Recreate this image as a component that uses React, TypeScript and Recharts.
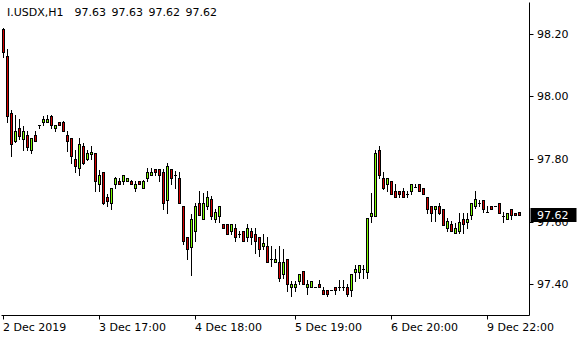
import { Bar, ComposedChart, XAxis, YAxis } from "recharts";

const symbol = "I.USDX,H1";

// hourly bars left to right
const opens = [
  98.214, 98.128, 97.948, 97.857, 97.9, 97.865, 97.878, 97.83, 97.878, 97.909,
  97.918, 97.918, 97.937, 97.898, 97.918, 97.918, 97.878, 97.868, 97.8, 97.772,
  97.841, 97.801, 97.817, 97.82, 97.719, 97.759, 97.679, 97.66, 97.721, 97.731,
  97.729, 97.729, 97.729, 97.708, 97.731, 97.708, 97.74, 97.748, 97.769, 97.769,
  97.759, 97.668, 97.769, 97.75, 97.74, 97.649, 97.551, 97.519, 97.569, 97.66,
  97.609, 97.649, 97.671, 97.609, 97.617, 97.591, 97.591, 97.569, 97.58, 97.561,
  97.569, 97.55, 97.571, 97.561, 97.551, 97.521, 97.521, 97.481, 97.472, 97.472,
  97.431, 97.481, 97.392, 97.392, 97.41, 97.442, 97.392, 97.392, 97.392, 97.401,
  97.38, 97.38, 97.38, 97.392, 97.392, 97.392, 97.392, 97.38, 97.44, 97.44,
  97.45, 97.44, 97.617, 97.617, 97.83, 97.74, 97.721, 97.731, 97.699, 97.699,
  97.699, 97.689, 97.699, 97.71, 97.721, 97.708, 97.679, 97.651, 97.641, 97.651,
  97.641, 97.58, 97.591, 97.562, 97.569, 97.609, 97.599, 97.62, 97.651, 97.66,
  97.668, 97.63, 97.651, 97.651, 97.66, 97.618, 97.609, 97.641, 97.628, 97.63,
];
const highs = [
  98.22, 98.15, 97.958, 97.939, 97.929, 97.907, 97.891, 97.868, 97.891, 97.909,
  97.937, 97.939, 97.939, 97.909, 97.918, 97.921, 97.889, 97.868, 97.83, 97.868,
  97.852, 97.83, 97.843, 97.82, 97.766, 97.759, 97.687, 97.708, 97.743, 97.74,
  97.75, 97.74, 97.732, 97.729, 97.731, 97.734, 97.772, 97.772, 97.769, 97.769,
  97.769, 97.788, 97.769, 97.761, 97.759, 97.649, 97.551, 97.623, 97.66, 97.699,
  97.69, 97.699, 97.681, 97.639, 97.649, 97.591, 97.591, 97.591, 97.591, 97.569,
  97.569, 97.591, 97.58, 97.58, 97.551, 97.561, 97.55, 97.521, 97.511, 97.521,
  97.511, 97.481, 97.41, 97.41, 97.431, 97.442, 97.415, 97.41, 97.392, 97.412,
  97.39, 97.38, 97.38, 97.392, 97.412, 97.412, 97.401, 97.431, 97.46, 97.46,
  97.46, 97.61, 97.69, 97.83, 97.841, 97.759, 97.74, 97.731, 97.721, 97.699,
  97.708, 97.699, 97.721, 97.721, 97.721, 97.708, 97.679, 97.651, 97.651, 97.66,
  97.641, 97.612, 97.601, 97.594, 97.628, 97.628, 97.628, 97.66, 97.697, 97.668,
  97.668, 97.649, 97.651, 97.651, 97.66, 97.63, 97.628, 97.641, 97.628, 97.63,
];
const lows = [
  98.127, 97.918, 97.809, 97.853, 97.865, 97.828, 97.83, 97.82, 97.857, 97.898,
  97.909, 97.918, 97.898, 97.888, 97.909, 97.889, 97.827, 97.788, 97.759, 97.75,
  97.783, 97.798, 97.801, 97.697, 97.697, 97.657, 97.649, 97.639, 97.708, 97.721,
  97.721, 97.729, 97.721, 97.697, 97.721, 97.708, 97.731, 97.748, 97.748, 97.729,
  97.639, 97.628, 97.719, 97.708, 97.66, 97.527, 97.479, 97.428, 97.537, 97.62,
  97.609, 97.639, 97.607, 97.598, 97.598, 97.58, 97.561, 97.561, 97.537, 97.55,
  97.537, 97.537, 97.529, 97.5, 97.489, 97.511, 97.472, 97.458, 97.472, 97.41,
  97.42, 97.378, 97.362, 97.378, 97.401, 97.401, 97.37, 97.392, 97.392, 97.392,
  97.37, 97.362, 97.38, 97.37, 97.38, 97.38, 97.362, 97.362, 97.41, 97.42,
  97.42, 97.42, 97.598, 97.617, 97.74, 97.703, 97.697, 97.689, 97.679, 97.679,
  97.679, 97.679, 97.689, 97.71, 97.699, 97.689, 97.628, 97.601, 97.601, 97.623,
  97.588, 97.569, 97.569, 97.562, 97.562, 97.562, 97.58, 97.607, 97.644, 97.649,
  97.63, 97.63, 97.641, 97.651, 97.628, 97.598, 97.609, 97.609, 97.62, 97.62,
];
const closes = [
  98.143, 97.937, 97.849, 97.891, 97.875, 97.889, 97.838, 97.868, 97.857, 97.909,
  97.928, 97.928, 97.909, 97.909, 97.909, 97.889, 97.857, 97.809, 97.777, 97.849,
  97.788, 97.82, 97.822, 97.729, 97.75, 97.66, 97.667, 97.708, 97.74, 97.721,
  97.75, 97.74, 97.721, 97.721, 97.721, 97.731, 97.759, 97.759, 97.759, 97.748,
  97.66, 97.779, 97.74, 97.75, 97.66, 97.537, 97.511, 97.609, 97.649, 97.62,
  97.66, 97.679, 97.618, 97.63, 97.649, 97.58, 97.561, 97.591, 97.55, 97.561,
  97.537, 97.58, 97.55, 97.537, 97.511, 97.531, 97.472, 97.481, 97.481, 97.42,
  97.472, 97.401, 97.401, 97.401, 97.431, 97.401, 97.401, 97.41, 97.392, 97.392,
  97.37, 97.37, 97.38, 97.38, 97.392, 97.392, 97.37, 97.431, 97.45, 97.46,
  97.45, 97.61, 97.628, 97.82, 97.75, 97.708, 97.74, 97.689, 97.679, 97.689,
  97.679, 97.689, 97.721, 97.71, 97.699, 97.689, 97.641, 97.628, 97.651, 97.628,
  97.588, 97.601, 97.569, 97.58, 97.599, 97.591, 97.609, 97.66, 97.671, 97.66,
  97.641, 97.63, 97.641, 97.651, 97.628, 97.618, 97.628, 97.62, 97.62, 97.62,
];

const timeTicks = [0, 24, 48, 73, 97, 121];
const timeLabels = ["2 Dec 2019", "3 Dec 17:00", "4 Dec 18:00", "5 Dec 19:00", "6 Dec 20:00", "9 Dec 22:00"];
const priceTicks = [97.4, 97.6, 97.8, 98.0, 98.2];
const priceDomain = [97.3, 98.3];

const bullColor = "#7cfc00";
const bearColor = "#d40000";
const font = "'DejaVu Sans', Verdana, sans-serif";

const data = opens.map((open, i) => ({ i, open, high: highs[i], low: lows[i], close: closes[i] }));
const last = data[data.length - 1];

function Candle(props: any) {
  const { x, y, width, height, payload } = props;
  if (x == null || y == null) return null;
  const { open, high, low, close } = payload;
  const cx = Math.floor(x + width / 2);
  const top = Math.min(y, y + height);
  const span = Math.abs(height);
  const toY = (p: number) => (high === low ? top : top + ((high - p) / (high - low)) * span);
  const yHigh = Math.round(toY(high));
  const yLow = Math.round(toY(low));
  const yBodyTop = Math.round(toY(Math.max(open, close)));
  const yBodyBot = Math.round(toY(Math.min(open, close)));
  return (
    <g>
      <line x1={cx + 0.5} x2={cx + 0.5} y1={yHigh} y2={yLow + 1} stroke="#000" />
      {yBodyBot === yBodyTop ? (
        <line x1={cx - 1} x2={cx + 2} y1={yBodyTop + 0.5} y2={yBodyTop + 0.5} stroke="#000" />
      ) : (
        <rect x={cx - 0.5} y={yBodyTop + 0.5} width={2} height={yBodyBot - yBodyTop}
          fill={close > open ? bullColor : bearColor} stroke="#000" />
      )}
    </g>
  );
}

function TimeTick({ x, y, payload }: any) {
  const px = Math.floor(x) + 0.5;
  const label = timeLabels[timeTicks.indexOf(payload.value)];
  return (
    <g>
      <line x1={px} x2={px} y1={y} y2={y + 4} stroke="#000" />
      <text x={x - 0.5} y={y + 15} textAnchor="start" fontSize={11} fontFamily={font} fill="#000">{label}</text>
    </g>
  );
}

function PriceTick({ x, y, payload }: any) {
  const v = payload.value;
  const py = Math.round(y) + 0.5;
  if (v === last.close) {
    return (
      <g>
        <rect x={x + 1} y={Math.round(y) - 7} width={46} height={14} fill="#000" />
        <text x={x + 7.5} y={y + 4} fontSize={11} fontFamily={font} fill="#fff">{v.toFixed(2)}</text>
      </g>
    );
  }
  return (
    <g>
      <line x1={x} x2={x + 4} y1={py} y2={py} stroke="#000" />
      <text x={x + 7.5} y={y + 4} fontSize={11} fontFamily={font} fill="#000">{v.toFixed(2)}</text>
    </g>
  );
}

export default function App() {
  return (
    <div style={{ position: "relative", width: 580, height: 340, background: "#fff" }}>
      <style>{"body{margin:0}"}</style>
      <ComposedChart width={580} height={340} data={data} margin={{ top: 2.5, right: 0, bottom: 0, left: 1.5 }}>
        <XAxis dataKey="i" height={24.5} ticks={timeTicks} interval={0} padding={{ left: 0, right: 8 }}
          axisLine={{ stroke: "#000" }} tickLine={false} tickSize={0} tickMargin={0} tick={<TimeTick />} />
        <XAxis xAxisId="top" dataKey="i" orientation="top" height={0} tick={false} tickLine={false}
          padding={{ left: 0, right: 8 }} axisLine={{ stroke: "#000" }} />
        <YAxis orientation="right" width={50.5} type="number" domain={priceDomain} allowDataOverflow
          ticks={[...priceTicks, last.close]} interval={0} axisLine={{ stroke: "#000" }}
          tickLine={false} tickSize={0} tickMargin={0} tick={<PriceTick />} />
        <YAxis yAxisId="left" orientation="left" width={0} type="number" domain={priceDomain}
          allowDataOverflow tick={false} tickLine={false} axisLine={{ stroke: "#000" }} />
        <Bar dataKey={(d: any) => [d.low, d.high]} shape={<Candle />} isAnimationActive={false} />
      </ComposedChart>
      <div style={{ position: "absolute", left: 7, top: 6, fontFamily: font, fontSize: 11, lineHeight: "13px", color: "#000", whiteSpace: "pre" }}>
        <span>{symbol}</span>
        <span style={{ marginLeft: 11, wordSpacing: 2 }}>
          {[last.open, last.high, last.low, last.close].map((v) => v.toFixed(2)).join(" ")}
        </span>
      </div>
    </div>
  );
}
